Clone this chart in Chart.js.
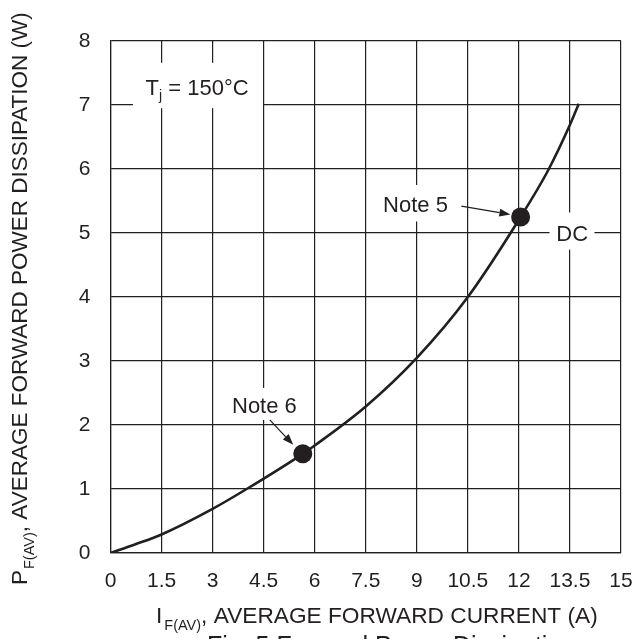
<!DOCTYPE html>
<html>
<head>
<meta charset="utf-8">
<script src="https://cdn.jsdelivr.net/npm/chart.js@4.4.1/dist/chart.umd.min.js"></script>
<style>
html,body{margin:0;padding:0;background:#fff;}
canvas{display:block;}
</style>
</head>
<body>
<canvas id="c" width="632" height="639"></canvas>
<script>
// ---- data ----
const currentA = [0, 0.75, 1.5, 3, 4.0, 5.65, 6, 7.5, 9, 10.5, 12.05, 12.88, 13.5, 13.76];
const powerW   = [0, 0.14, 0.29, 0.69, 1.0, 1.55, 1.68, 2.29, 3.05, 4.0, 5.25, 6.0, 6.69, 7.02];
const noteCurrent = [5.65, 12.05];
const notePower   = [1.55, 5.25];
const xTickValues = [0, 1.5, 3, 4.5, 6, 7.5, 9, 10.5, 12, 13.5, 15];
const yTickValues = [0, 1, 2, 3, 4, 5, 6, 7, 8];

const INK = '#231f20';
const FONT = '"Liberation Sans", Arial, sans-serif';

// annotation labels (positions in data units)
const labels = [
  {main:'T', sub:'j', rest:' = 150\u00B0C', x:1.03, y:7.16, box:[0.66, 7.66, 4.48, 6.95]},
  {main:'Note 6', x:3.57, y:2.19, box:[3.39, 2.58, 5.68, 2.08]},
  {main:'Note 5', x:8.01, y:5.33, box:[7.85, 5.75, 10.11, 5.18]},
  {main:'DC', x:13.1, y:4.88, box:[12.9, 5.32, 14.22, 4.74]}
];
const arrows = [
  {from:[4.68, 2.08], to:[5.37, 1.69]},
  {from:[10.31, 5.42], to:[11.75, 5.29]}
];

function drawRich(ctx, x, y, parts){
  let cx = x;
  for (const p of parts){
    ctx.font = p.size + 'px ' + FONT;
    ctx.fillText(p.t, cx, y + (p.dy||0));
    cx += ctx.measureText(p.t).width + (p.gap||0);
  }
}

const annot = {
  id:'annot',
  beforeDatasetsDraw(chart){
    const ctx = chart.ctx, xs = chart.scales.x, ys = chart.scales.y;
    ctx.save();
    ctx.fillStyle = '#fff';
    for (const l of labels){
      const x0 = xs.getPixelForValue(l.box[0]), y0 = ys.getPixelForValue(l.box[1]);
      const x1 = xs.getPixelForValue(l.box[2]), y1 = ys.getPixelForValue(l.box[3]);
      ctx.fillRect(x0, y0, x1-x0, y1-y0);
    }
    ctx.restore();
  },
  afterDraw(chart){
    const ctx = chart.ctx, xs = chart.scales.x, ys = chart.scales.y;
    ctx.save();
    ctx.fillStyle = INK;
    ctx.strokeStyle = INK;
    ctx.textBaseline = 'alphabetic';
    ctx.textAlign = 'left';
    for (const l of labels){
      const px = xs.getPixelForValue(l.x), py = ys.getPixelForValue(l.y);
      const parts = [{t:l.main, size:22}];
      if (l.sub){ parts.push({t:l.sub, size:14, dy:5}); parts.push({t:l.rest, size:22}); }
      drawRich(ctx, px, py, parts);
    }
    for (const a of arrows){
      const x0 = xs.getPixelForValue(a.from[0]), y0 = ys.getPixelForValue(a.from[1]);
      const x1 = xs.getPixelForValue(a.to[0]),   y1 = ys.getPixelForValue(a.to[1]);
      const ang = Math.atan2(y1-y0, x1-x0), hl = 11, hw = 4;
      const bx = x1 - hl*Math.cos(ang), by = y1 - hl*Math.sin(ang);
      ctx.lineWidth = 1.3;
      ctx.beginPath(); ctx.moveTo(x0,y0); ctx.lineTo(bx,by); ctx.stroke();
      ctx.beginPath();
      ctx.moveTo(x1,y1);
      ctx.lineTo(bx + hw*Math.sin(ang), by - hw*Math.cos(ang));
      ctx.lineTo(bx - hw*Math.sin(ang), by + hw*Math.cos(ang));
      ctx.closePath(); ctx.fill();
    }
    // x axis title
    drawRich(ctx, 156, 623, [
      {t:'I', size:22.7, gap:2},
      {t:'F(AV)', size:14.5, dy:7},
      {t:', AVERAGE FORWARD CURRENT (A)', size:22.7}
    ]);
    // caption (cut by the bottom edge)
    ctx.font = '25px ' + FONT;
    ctx.fillText('Fig. 5 Forward Power Dissipation', 207, 654);
    // y axis title
    ctx.translate(27, 585);
    ctx.rotate(-Math.PI/2);
    drawRich(ctx, 0, 0, [
      {t:'P', size:22.5, gap:1},
      {t:'F(AV)', size:14.5, dy:7},
      {t:', AVERAGE FORWARD POWER DISSIPATION (W)', size:22.5}
    ]);
    ctx.restore();
  }
};

new Chart(document.getElementById('c'), {
  type:'scatter',
  data:{
    datasets:[
      {
        data: currentA.map((v,i)=>({x:v, y:powerW[i]})),
        showLine:true, borderColor:INK, borderWidth:2.6,
        pointRadius:0, tension:0.4, cubicInterpolationMode:'monotone', fill:false
      },
      {
        data: noteCurrent.map((v,i)=>({x:v, y:notePower[i]})),
        showLine:false, pointRadius:9.5, pointBackgroundColor:INK, pointBorderWidth:0
      }
    ]
  },
  options:{
    responsive:false, animation:false,
    layout:{padding:{top:41, right:11, left:0, bottom:0}},
    plugins:{legend:{display:false}, tooltip:{enabled:false}},
    scales:{
      x:{
        type:'linear', min:0, max:15,
        afterBuildTicks(s){ s.ticks = xTickValues.map(v=>({value:v})); },
        afterFit(s){ s.height = 86; s.paddingLeft = 0; s.paddingRight = 0; },
        grid:{color:INK, lineWidth:1.2, drawTicks:false},
        border:{color:INK, width:1.2},
        ticks:{color:INK, font:{family:FONT, size:21}, padding:16, maxRotation:0, autoSkip:false,
               callback:(v)=>String(v)}
      },
      y:{
        type:'linear', min:0, max:8,
        afterBuildTicks(s){ s.ticks = yTickValues.map(v=>({value:v})); },
        afterFit(s){ s.width = 110.5; },
        grid:{color:INK, lineWidth:1.2, drawTicks:false},
        border:{color:INK, width:1.2},
        ticks:{color:INK, font:{family:FONT, size:21}, padding:20, callback:(v)=>String(v)}
      }
    }
  },
  plugins:[annot]
});
</script>
</body>
</html>
